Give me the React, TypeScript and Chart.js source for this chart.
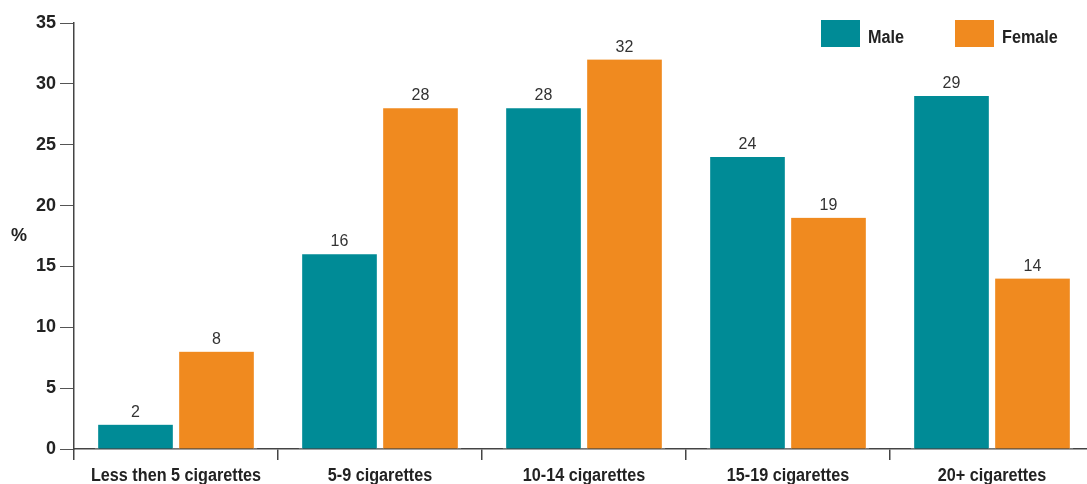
import React, { useEffect, useRef } from "react";
import { Chart, registerables } from "chart.js";

Chart.register(...registerables);

const categories = [
  "Less then 5 cigarettes",
  "5-9 cigarettes",
  "10-14 cigarettes",
  "15-19 cigarettes",
  "20+ cigarettes",
];
const maleValues = [2, 16, 28, 24, 29];
const femaleValues = [8, 28, 32, 19, 14];
const seriesNames = ["Male", "Female"];
const seriesColors = ["#008B96", "#F08A1F"];
const yMin = 0;
const yMax = 35;
const yStep = 5;
const yAxisTitle = "%";

const SANS = "'Liberation Sans', Arial, sans-serif";
const CONDENSE = 0.9;

function condensedText(ctx: any, text: string, x: number, y: number, align: "left" | "center") {
  ctx.save();
  ctx.translate(x, y);
  ctx.scale(CONDENSE, 1);
  ctx.textAlign = align;
  ctx.textBaseline = "alphabetic";
  ctx.fillText(text, 0, 0);
  ctx.restore();
}

const overlayPlugin = {
  id: "overlay",
  afterDatasetsDraw(chart: any) {
    const ctx = chart.ctx;
    ctx.save();
    // value labels
    ctx.font = `16px ${SANS}`;
    ctx.fillStyle = "#333333";
    ctx.textAlign = "center";
    ctx.textBaseline = "alphabetic";
    chart.data.datasets.forEach((ds: any, di: number) => {
      const meta = chart.getDatasetMeta(di);
      meta.data.forEach((el: any, i: number) => {
        ctx.fillText(String(ds.data[i]), el.x, el.y - 8);
      });
    });
    // x category labels
    const xs = chart.scales.x;
    ctx.font = `bold 18px ${SANS}`;
    ctx.fillStyle = "#222222";
    (chart.data.labels as string[]).forEach((lab, i) => {
      condensedText(ctx, lab, xs.getPixelForTick(i), 481, "center");
    });
    // y axis title
    ctx.font = `bold 18px ${SANS}`;
    ctx.fillStyle = "#222222";
    ctx.textAlign = "center";
    ctx.textBaseline = "middle";
    ctx.fillText(yAxisTitle, 19, 236);
    // legend
    const legendX = [821, 955];
    seriesNames.forEach((name, i) => {
      ctx.fillStyle = seriesColors[i];
      ctx.fillRect(legendX[i], 20, 39, 27);
      ctx.fillStyle = "#222222";
      ctx.font = `bold 18px ${SANS}`;
      condensedText(ctx, name, legendX[i] + 47, 43, "left");
    });
    ctx.restore();
  },
};

export default function App() {
  const canvasRef = useRef<HTMLCanvasElement | null>(null);

  useEffect(() => {
    if (!canvasRef.current) return;
    const chart = new Chart(canvasRef.current, {
      type: "bar",
      data: {
        labels: categories,
        datasets: [
          {
            label: seriesNames[0],
            data: maleValues,
            backgroundColor: seriesColors[0],
            borderColor: "#ffffff",
            borderWidth: { left: 3.5, right: 3.5, top: 0, bottom: 0 },
            borderSkipped: false,
            barThickness: 81,
          },
          {
            label: seriesNames[1],
            data: femaleValues,
            backgroundColor: seriesColors[1],
            borderColor: "#ffffff",
            borderWidth: { left: 3.5, right: 3.5, top: 0, bottom: 0 },
            borderSkipped: false,
            barThickness: 81,
          },
        ],
      },
      options: {
        responsive: false,
        animation: false,
        devicePixelRatio: 1,
        layout: { padding: { top: 23, right: 0, bottom: 0, left: 0 } },
        plugins: {
          legend: { display: false },
          tooltip: { enabled: false },
        },
        scales: {
          x: {
            z: 1,
            grid: {
              offset: true,
              drawOnChartArea: false,
              drawTicks: true,
              tickLength: 11,
              color: "#444444",
              lineWidth: 1.5,
            },
            border: { color: "#444444", width: 1.5 },
            ticks: {
              display: false,
              autoSkip: false,
            },
            afterFit(scale: any) {
              scale.height = 35;
            },
          },
          y: {
            min: yMin,
            max: yMax,
            grid: {
              drawOnChartArea: false,
              drawTicks: true,
              tickLength: 14,
              color: "#555555",
              lineWidth: 1,
            },
            border: { color: "#444444", width: 1.5 },
            ticks: {
              stepSize: yStep,
              font: { family: SANS, size: 18, weight: "bold" },
              color: "#222222",
              padding: 4,
            },
            afterFit(scale: any) {
              scale.width = 74;
            },
          },
        },
      },
      plugins: [overlayPlugin],
    } as any);
    return () => chart.destroy();
  }, []);

  return (
    <div
      style={{
        position: "fixed",
        left: 0,
        top: 0,
        width: 1087,
        height: 484,
        overflow: "hidden",
        background: "#ffffff",
      }}
    >
      <canvas ref={canvasRef} width={1094} height={484} style={{ display: "block" }} />
    </div>
  );
}
